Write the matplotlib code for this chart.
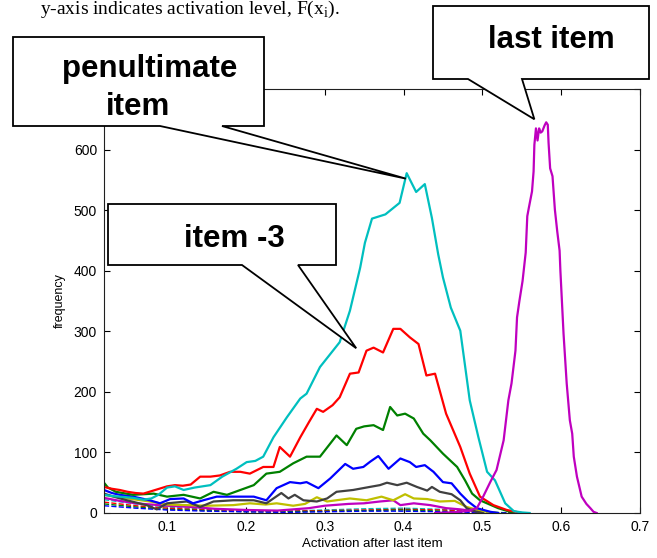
"""Activation histograms per serial position, with callouts."""
import matplotlib
matplotlib.use("Agg")
import matplotlib.pyplot as plt
from matplotlib.patches import Polygon

# ---- data ----
# penultimate item (cyan)
cyan_x = [0.02, 0.03, 0.04, 0.057, 0.07, 0.08, 0.089, 0.1, 0.11, 0.121, 0.135, 0.155,
          0.17, 0.188, 0.201, 0.212, 0.222, 0.235, 0.252, 0.269, 0.277, 0.294, 0.319,
          0.332, 0.345, 0.351, 0.36, 0.377, 0.395, 0.404, 0.416, 0.427, 0.436, 0.444,
          0.45, 0.46, 0.472, 0.484, 0.495, 0.506, 0.516, 0.529, 0.54, 0.55, 0.56]
cyan_y = [30, 28, 27, 25, 22, 24, 30, 42, 44, 38, 42, 46, 60, 73, 84, 86, 93, 125, 158,
          189, 197, 241, 282, 334, 405, 446, 486, 493, 512, 561, 530, 543, 487, 427,
          389, 339, 301, 186, 125, 68, 54, 16, 3, 1, 0]

# item -3 (red)
red_x = [0.02, 0.03, 0.04, 0.05, 0.06, 0.07, 0.08, 0.09, 0.1, 0.11, 0.12, 0.13, 0.142,
         0.155, 0.167, 0.18, 0.193, 0.205, 0.222, 0.235, 0.243, 0.256, 0.269, 0.28,
         0.29, 0.298, 0.31, 0.319, 0.332, 0.343, 0.353, 0.362, 0.374, 0.387, 0.396,
         0.408, 0.419, 0.429, 0.44, 0.454, 0.472, 0.484, 0.497, 0.514, 0.531, 0.55]
red_y = [43, 40, 38, 35, 33, 32, 36, 40, 44, 46, 45, 47, 60, 60, 62, 68, 68, 65, 76, 76,
         109, 93, 125, 150, 172, 167, 178, 191, 230, 232, 268, 273, 265, 304, 304, 290,
         279, 227, 230, 164, 109, 65, 27, 13, 5, 0]

# item -4 (green)
green_x = [0.02, 0.025, 0.035, 0.057, 0.083, 0.1, 0.121, 0.142, 0.159, 0.176, 0.193,
           0.21, 0.226, 0.243, 0.26, 0.277, 0.294, 0.315, 0.328, 0.34, 0.35, 0.362,
           0.374, 0.383, 0.392, 0.402, 0.413, 0.425, 0.434, 0.45, 0.468, 0.478, 0.487,
           0.497, 0.52, 0.54]
green_y = [50, 42, 35, 30, 32, 27, 30, 24, 35, 30, 38, 46, 65, 68, 82, 93, 93, 128, 112,
           139, 143, 145, 137, 175, 161, 164, 156, 131, 120, 98, 76, 54, 32, 21, 8, 0]

# item -5 (blue)
blue_x = [0.02, 0.03, 0.04, 0.057, 0.078, 0.091, 0.104, 0.121, 0.133, 0.146, 0.163,
          0.184, 0.21, 0.226, 0.239, 0.256, 0.269, 0.277, 0.292, 0.307, 0.326, 0.336,
          0.349, 0.358, 0.368, 0.381, 0.396, 0.408, 0.416, 0.427, 0.438, 0.45, 0.461,
          0.472, 0.482, 0.493, 0.51, 0.52]
blue_y = [38, 33, 30, 27, 21, 16, 23, 24, 16, 21, 27, 27, 27, 21, 41, 51, 49, 51, 41, 57,
          81, 73, 76, 85, 94, 73, 90, 84, 76, 79, 68, 51, 49, 32, 19, 8, 2, 0]

# item -6 (dark gray)
gray_x = [0.02, 0.035, 0.049, 0.074, 0.087, 0.1, 0.125, 0.142, 0.159, 0.184, 0.21,
          0.226, 0.245, 0.254, 0.262, 0.273, 0.29, 0.303, 0.315, 0.336, 0.357, 0.37,
          0.379, 0.392, 0.404, 0.417, 0.43, 0.436, 0.446, 0.461, 0.472, 0.48, 0.49, 0.5]
gray_y = [32, 26, 21, 13, 6, 16, 19, 10, 19, 21, 21, 16, 33, 24, 30, 21, 19, 24, 35, 38,
          43, 46, 50, 46, 50, 43, 37, 43, 35, 31, 21, 8, 3, 0]

# item -7 (yellow)
yellow_x = [0.02, 0.028, 0.05, 0.078, 0.1, 0.125, 0.15, 0.184, 0.205, 0.225, 0.239,
            0.26, 0.275, 0.29, 0.303, 0.332, 0.353, 0.372, 0.387, 0.402, 0.413, 0.43,
            0.446, 0.465, 0.48, 0.5, 0.52]
yellow_y = [30, 28, 24, 19, 14, 13, 12, 13, 16, 14, 16, 12, 15, 26, 19, 24, 21, 27, 21,
            31, 24, 23, 19, 20, 10, 3, 0]

# item -8 (magenta, small)
mag_small_x = [0.02, 0.04, 0.06, 0.08, 0.1, 0.13, 0.16, 0.2, 0.24, 0.28, 0.3, 0.33,
               0.35, 0.37, 0.387, 0.396, 0.413, 0.434, 0.454, 0.472, 0.49]
mag_small_y = [25, 20, 16, 14, 12, 10, 7, 5, 4, 8, 12, 15, 16, 19, 21, 13, 16, 13, 8, 6, 3]

# earlier items (dashed, near zero)
tail_x = [0.02, 0.06, 0.1, 0.15, 0.2, 0.25, 0.3, 0.35, 0.4, 0.45, 0.5, 0.54]
tail_c = [22, 15, 10, 6, 4, 3, 5, 7, 8, 6, 2, 0]
tail_r = [18, 12, 8, 5, 3, 3, 4, 5, 6, 5, 1, 0]
tail_g = [15, 10, 6, 4, 2, 2, 3, 4, 5, 3, 1, 0]
tail_b = [12, 8, 5, 3, 2, 1, 2, 3, 3, 2, 0, 0]

# last item (magenta)
last_x = [0.44, 0.46, 0.48, 0.493, 0.501, 0.51, 0.518, 0.527, 0.533, 0.537, 0.542,
          0.544, 0.547, 0.551, 0.555, 0.557, 0.559, 0.563, 0.565, 0.566, 0.568, 0.570,
          0.572, 0.574, 0.576, 0.579, 0.581, 0.583, 0.584, 0.586, 0.589, 0.592, 0.595,
          0.598, 0.599, 0.603, 0.607, 0.611, 0.614, 0.616, 0.62, 0.626, 0.632, 0.637,
          0.641, 0.645]
last_y = [0, 1, 3, 8, 27, 51, 71, 120, 186, 214, 268, 323, 350, 383, 430, 490, 504, 531,
          564, 608, 635, 615, 635, 628, 630, 640, 645, 641, 611, 569, 556, 501, 465,
          433, 400, 296, 214, 153, 131, 93, 60, 27, 15, 8, 2, 0]

x_ticks = [0.1, 0.2, 0.3, 0.4, 0.5, 0.6, 0.7]
y_ticks = [0, 100, 200, 300, 400, 500, 600, 700]

W, H = 657, 558
fig = plt.figure(figsize=(W / 100, H / 100), dpi=100, facecolor='white')
ax = fig.add_axes([104 / W, 1 - 513 / H, (640 - 104) / W, (513 - 89) / H])

lw = 1.6
for tx, ty, col in [(tail_x, tail_c, '#00BFBF'), (tail_x, tail_r, '#FF0000'),
                    (tail_x, tail_g, '#008000'), (tail_x, tail_b, '#0000FF')]:
    ax.plot(tx, ty, color=col, lw=1.0, ls='--')
ax.plot(mag_small_x, mag_small_y, color='#BF00BF', lw=lw)
ax.plot(yellow_x, yellow_y, color='#BFBF00', lw=lw)
ax.plot(gray_x, gray_y, color='#404040', lw=lw)
ax.plot(blue_x, blue_y, color='#0000FF', lw=lw)
ax.plot(green_x, green_y, color='#008000', lw=lw)
ax.plot(red_x, red_y, color='#FF0000', lw=lw)
ax.plot(cyan_x, cyan_y, color='#00BFBF', lw=lw)
ax.plot(last_x, last_y, color='#BF00BF', lw=lw)

ax.set_xlim(0.02, 0.7)
ax.set_ylim(0, 700)
ax.set_xticks(x_ticks)
ax.set_xticklabels([f"{v:g}" for v in x_ticks])
ax.set_yticks(y_ticks)
ax.tick_params(direction='in', top=True, right=True, length=4, width=0.8,
               labelsize=10, pad=5)
for lab in ax.get_xticklabels() + ax.get_yticklabels():
    lab.set_family('Liberation Sans')
for s in ax.spines.values():
    s.set_linewidth(0.8)
    s.set_color('#202020')
ax.set_xlabel('Activation after last item', family='Liberation Sans', fontsize=9.5,
              labelpad=3)
ax.set_ylabel('frequency', family='Liberation Sans', fontsize=9, labelpad=6)

# ---- heading text (cut off by the page crop) ----
fig.text(40 / W, 1 - 14 / H, 'y-axis indicates activation level, F(x$_\\mathregular{i}$).',
         family='Liberation Serif', fontsize=14, va='baseline', ha='left')


def px(x, y):
    return (x / W, 1 - y / H)


def tip(xd, yd):
    disp = ax.transData.transform((xd, yd))
    return tuple(fig.transFigure.inverted().transform(disp))


def callout(left, top, right, bottom, base1, base2, tip_pt):
    verts = [px(left, top), px(right, top), px(right, bottom), px(base2, bottom),
             tip_pt, px(base1, bottom), px(left, bottom)]
    poly = Polygon(verts, closed=True, facecolor='white', edgecolor='black',
                   lw=1.3, transform=fig.transFigure, zorder=5, joinstyle='miter')
    fig.add_artist(poly)


callout(13, 37, 264, 126, 160, 222, tip(0.403, 552))
callout(433, 6, 649, 79, 468, 522, tip(0.566, 650))
callout(108, 204, 336, 265, 242, 298, tip(0.34, 272))

bold = dict(family='Liberation Sans', fontweight='bold', fontsize=22.5, zorder=6,
            ha='center', va='baseline')
fig.text(*px(150, 77), 'penultimate', **bold)
fig.text(*px(138, 115), 'item', **bold)
fig.text(*px(551, 48), 'last item', **bold)
fig.text(*px(234, 247), 'item -3', **bold)

fig.savefig('out.png', dpi=100, facecolor='white')
